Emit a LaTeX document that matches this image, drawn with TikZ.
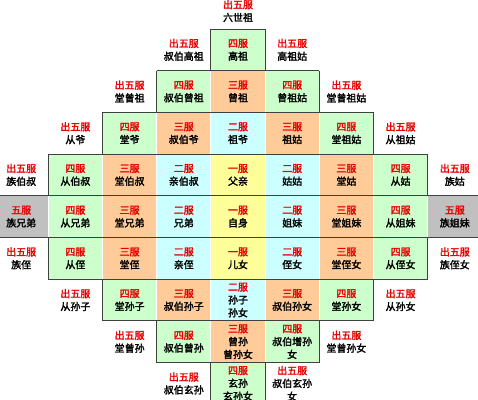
\documentclass[tikz,border=0pt]{standalone}
\usepackage{fontspec}
\newfontfamily\cjk[AutoFakeBold=2.2]{Noto Sans CJK SC}
\usetikzlibrary{positioning}

\definecolor{yiyellow}{HTML}{FFFF99}
\definecolor{erblue}{HTML}{CCFFFF}
\definecolor{sanorange}{HTML}{FFCC99}
\definecolor{sigreen}{HTML}{CCFFCC}
\definecolor{wugray}{HTML}{C0C0C0}
\definecolor{fured}{HTML}{E60000}
\newcommand{\grade}[1]{\textcolor{fured}{#1}}

\tikzset{
  fu/.style={minimum width=1.626cm, minimum height=1.251cm, inner sep=0pt,
    align=center, draw=white, line width=1pt,
    font=\cjk\bfseries\fontsize{8.5}{11}\selectfont},
  fuyi/.style={fu, fill=yiyellow},
  fuer/.style={fu, fill=erblue},
  fusan/.style={fu, fill=sanorange},
  fusi/.style={fu, fill=sigreen},
  fuwu/.style={fu, fill=wugray},
  chufu/.style={fu, draw=none},
  edge/.style={draw=black!75, line width=0.8pt},
}

\begin{document}
\begin{tikzpicture}[x=1.626cm, y=1.251cm]
    \useasboundingbox (-4.391,-4.397) rectangle (4.428,5.195);
    \clip (-4.391,-4.397) rectangle (4.428,5.195);

    % 第0行
    \node[chufu] (liushizu) at (0,4.93) {\grade{出五服}\\六世祖};

    % 第1行
    \node[chufu] (shubogaozu) at (-1,4) {\grade{出五服}\\叔伯高祖};
    \node[fusi] (gaozu) at (0,4) {\grade{四服}\\高祖};
    \node[chufu] (gaozugu) at (1,4) {\grade{出五服}\\高祖姑};

    % 第2行
    \node[chufu] (tangzengzu) at (-2,3) {\grade{出五服}\\堂曾祖};
    \node[fusi] (shubozengzu) at (-1,3) {\grade{四服}\\叔伯曾祖};
    \node[fusan] (zengzu) at (0,3) {\grade{三服}\\曾祖};
    \node[fusi] (zengzugu) at (1,3) {\grade{四服}\\曾祖姑};
    \node[chufu] (tangzengzugu) at (2,3) {\grade{出五服}\\堂曾祖姑};

    % 第3行
    \node[chufu] (congye) at (-3,2) {\grade{出五服}\\从爷};
    \node[fusi] (tangye) at (-2,2) {\grade{四服}\\堂爷};
    \node[fusan] (shuboye) at (-1,2) {\grade{三服}\\叔伯爷};
    \node[fuer] (zuye) at (0,2) {\grade{二服}\\祖爷};
    \node[fusan] (zugu) at (1,2) {\grade{三服}\\祖姑};
    \node[fusi] (tangzugu) at (2,2) {\grade{四服}\\堂祖姑};
    \node[chufu] (congzugu) at (3,2) {\grade{出五服}\\从祖姑};

    % 第4行
    \node[chufu] (clanboshu) at (-4,1) {\grade{出五服}\\族伯叔};
    \node[fusi] (congboshu) at (-3,1) {\grade{四服}\\从伯叔};
    \node[fusan] (tangboshu) at (-2,1) {\grade{三服}\\堂伯叔};
    \node[fuer] (qinboshu) at (-1,1) {\grade{二服}\\亲伯叔};
    \node[fuyi] (fuqin) at (0,1) {\grade{一服}\\父亲};
    \node[fuer] (gugu) at (1,1) {\grade{二服}\\姑姑};
    \node[fusan] (tanggu) at (2,1) {\grade{三服}\\堂姑};
    \node[fusi] (conggu) at (3,1) {\grade{四服}\\从姑};
    \node[chufu] (clangu) at (4,1) {\grade{出五服}\\族姑};

    % 第5行
    \node[fuwu] (clanxiongdi) at (-4,0) {\grade{五服}\\族兄弟};
    \node[fusi] (congxiongdi) at (-3,0) {\grade{四服}\\从兄弟};
    \node[fusan] (tangxiongdi) at (-2,0) {\grade{三服}\\堂兄弟};
    \node[fuer] (xiongdi) at (-1,0) {\grade{二服}\\兄弟};
    \node[fuyi] (zishen) at (0,0) {\grade{一服}\\自身};
    \node[fuer] (jiemei) at (1,0) {\grade{二服}\\姐妹};
    \node[fusan] (tangjiemei) at (2,0) {\grade{三服}\\堂姐妹};
    \node[fusi] (congjiemei) at (3,0) {\grade{四服}\\从姐妹};
    \node[fuwu] (clanjiemei) at (4,0) {\grade{五服}\\族姐妹};

    % 第6行
    \node[chufu] (clanzhi) at (-4,-1) {\grade{出五服}\\族侄};
    \node[fusi] (congzhi) at (-3,-1) {\grade{四服}\\从侄};
    \node[fusan] (tangzhi) at (-2,-1) {\grade{三服}\\堂侄};
    \node[fuer] (qinzhi) at (-1,-1) {\grade{二服}\\亲侄};
    \node[fuyi] (ernv) at (0,-1) {\grade{一服}\\儿女};
    \node[fuer] (zhinv) at (1,-1) {\grade{二服}\\侄女};
    \node[fusan] (tangzhinv) at (2,-1) {\grade{三服}\\堂侄女};
    \node[fusi] (congzhinv) at (3,-1) {\grade{四服}\\从侄女};
    \node[chufu] (clanzhinv) at (4,-1) {\grade{出五服}\\族侄女};

    % 第7行
    \node[chufu] (congsunzi) at (-3,-2) {\grade{出五服}\\从孙子};
    \node[fusi] (tangsunzi) at (-2,-2) {\grade{四服}\\堂孙子};
    \node[fusan] (shubosunzi) at (-1,-2) {\grade{三服}\\叔伯孙子};
    \node[fuer] (sunzi) at (0,-2) {\grade{二服}\\孙子\\孙女};
    \node[fusan] (shubosunnv) at (1,-2) {\grade{三服}\\叔伯孙女};
    \node[fusi] (tangsunnv) at (2,-2) {\grade{四服}\\堂孙女};
    \node[chufu] (congsunnv) at (3,-2) {\grade{出五服}\\从孙女};

    % 第8行
    \node[chufu] (tangzengsun) at (-2,-3) {\grade{出五服}\\堂曾孙};
    \node[fusi] (shubozengsun) at (-1,-3) {\grade{四服}\\叔伯曾孙};
    \node[fusan] (zengsun) at (0,-3) {\grade{三服}\\曾孙\\曾孙女};
    \node[fusi] (shubozengsunnv) at (1,-3) {\grade{四服}\\叔伯增孙\\女};
    \node[chufu] (tangzengsunnv) at (2,-3) {\grade{出五服}\\堂曾孙女};

    % 第9行
    \node[chufu] (shuboxuansun) at (-1,-4) {\grade{出五服}\\叔伯玄孙};
    \node[fusi] (xuansun) at (0,-4) {\grade{四服}\\玄孙\\玄孙女};
    \node[chufu] (shuboxuansunnv) at (1,-4) {\grade{出五服}\\叔伯玄孙\\女};

    % 横线
    \draw[edge] (-0.5,4.5) -- (0.5,4.5);
    \draw[edge] (-1.5,3.5) -- (1.5,3.5);
    \draw[edge] (-2.5,2.5) -- (2.5,2.5);
    \draw[edge] (-3.5,1.5) -- (3.5,1.5);
    \draw[edge] (-4.5,0.5) -- (4.5,0.5);
    \draw[edge] (-4.5,-0.5) -- (4.5,-0.5);
    \draw[edge] (-3.5,-1.5) -- (3.5,-1.5);
    \draw[edge] (-2.5,-2.5) -- (2.5,-2.5);
    \draw[edge] (-1.5,-3.5) -- (1.5,-3.5);

    % 左边台阶
    \draw[edge] (-0.5,4.5) -- (-0.5,3.5) (-1.5,3.5) -- (-1.5,2.5)
      (-2.5,2.5) -- (-2.5,1.5) (-3.5,1.5) -- (-3.5,0.5)
      (-3.5,-0.5) -- (-3.5,-1.5) (-2.5,-1.5) -- (-2.5,-2.5)
      (-1.5,-2.5) -- (-1.5,-3.5) (-0.5,-3.5) -- (-0.5,-4.5);

    % 右边台阶
    \draw[edge] (0.5,4.5) -- (0.5,3.5) (1.5,3.5) -- (1.5,2.5)
      (2.5,2.5) -- (2.5,1.5) (3.5,1.5) -- (3.5,0.5)
      (3.5,-0.5) -- (3.5,-1.5) (2.5,-1.5) -- (2.5,-2.5)
      (1.5,-2.5) -- (1.5,-3.5) (0.5,-3.5) -- (0.5,-4.5);

\end{tikzpicture}
\end{document}
